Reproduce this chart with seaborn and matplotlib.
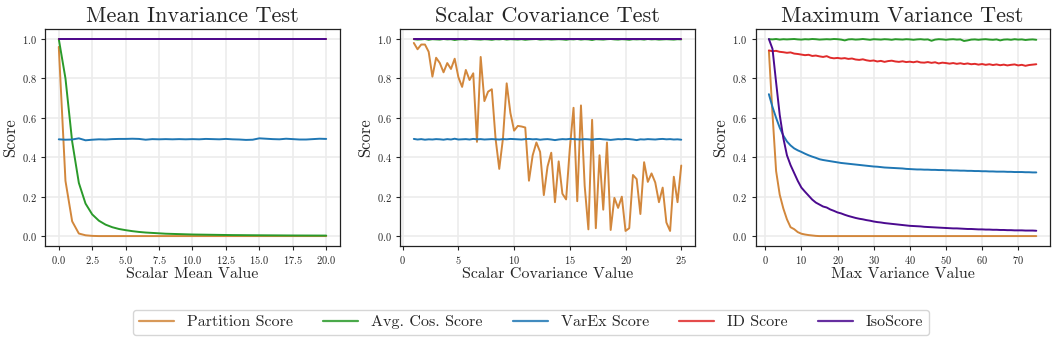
import matplotlib
matplotlib.use("Agg")
import matplotlib.pyplot as plt
import numpy as np
import pandas as pd
import seaborn as sns

SERIES = ["Partition Score", "Avg. Cos. Score", "VarEx Score", "ID Score", "IsoScore"]
COLORS = ["#d2873c", "#2a9a2a", "#1f77b4", "#e02b2b", "#4b0a8f"]

# --- Mean invariance test (x = 0..20, step 0.5) ---
mean_x = np.arange(0, 20.01, 0.5)
mean_partition = [0.96, 0.28, 0.075, 0.013, 0.004, 0.001] + [0.0] * 35
mean_avgcos = [1.0, 0.80, 0.48, 0.27, 0.165, 0.11, 0.078, 0.058, 0.045, 0.036,
               0.030, 0.025, 0.021, 0.018, 0.016, 0.014, 0.012, 0.011, 0.010, 0.009,
               0.008, 0.0075, 0.007, 0.0065, 0.006, 0.0055, 0.005, 0.0048, 0.0045, 0.0042,
               0.004, 0.0038, 0.0036, 0.0034, 0.0032, 0.003, 0.0029, 0.0028, 0.0027, 0.0026,
               0.0025]
mean_varex = [0.491, 0.489, 0.490, 0.496, 0.486, 0.489, 0.491, 0.490, 0.492, 0.493,
              0.493, 0.494, 0.493, 0.489, 0.492, 0.491, 0.492, 0.491, 0.492, 0.491,
              0.492, 0.491, 0.493, 0.492, 0.491, 0.493, 0.491, 0.490, 0.488, 0.489,
              0.496, 0.494, 0.492, 0.491, 0.494, 0.492, 0.490, 0.490, 0.492, 0.494,
              0.493]
mean_id = [1.0] * 41
mean_iso = [1.0] * 41

# --- Scalar covariance test (x = 1..25, 73 points) ---
cov_x = np.linspace(1, 25, 73)
cov_partition = [0.980, 0.948, 0.972, 0.972, 0.935, 0.809, 0.905, 0.878, 0.831, 0.878,
                 0.848, 0.900, 0.806, 0.757, 0.843, 0.792, 0.826, 0.478, 0.909, 0.685,
                 0.733, 0.745, 0.496, 0.341, 0.496, 0.775, 0.625, 0.535, 0.559, 0.556,
                 0.551, 0.281, 0.410, 0.475, 0.427, 0.208, 0.353, 0.423, 0.172, 0.379,
                 0.215, 0.186, 0.444, 0.651, 0.177, 0.663, 0.255, 0.034, 0.590, 0.040,
                 0.410, 0.134, 0.475, 0.031, 0.194, 0.143, 0.200, 0.026, 0.040, 0.310,
                 0.289, 0.112, 0.375, 0.275, 0.318, 0.272, 0.172, 0.246, 0.069, 0.026,
                 0.301, 0.172, 0.358]
cov_avgcos = [0.999, 0.997, 0.998, 1.000, 0.996, 0.999, 0.998, 0.997, 1.000, 0.998,
              0.999, 0.995, 0.998, 0.999, 0.997, 1.000, 0.999, 0.998, 0.997, 0.999,
              0.998, 0.996, 0.999, 0.998, 1.000, 0.997, 0.999, 0.998, 0.997, 0.999,
              0.996, 0.998, 0.999, 1.000, 0.997, 0.998, 0.999, 0.997, 0.998, 0.999,
              0.998, 0.996, 0.999, 0.998, 1.000, 0.997, 0.999, 0.998, 0.995, 0.999,
              0.998, 0.997, 0.999, 1.000, 0.998, 0.997, 0.999, 0.998, 0.996, 0.999,
              0.998, 0.999, 0.997, 1.000, 0.998, 0.999, 0.997, 0.998, 0.999, 0.998,
              0.997, 0.999, 0.998]
cov_varex = [0.493, 0.490, 0.492, 0.489, 0.491, 0.490, 0.492, 0.491, 0.489, 0.492,
             0.490, 0.494, 0.490, 0.491, 0.492, 0.490, 0.493, 0.491, 0.492, 0.490,
             0.491, 0.492, 0.491, 0.490, 0.492, 0.491, 0.493, 0.492, 0.491, 0.490,
             0.492, 0.493, 0.491, 0.492, 0.489, 0.491, 0.492, 0.490, 0.487, 0.490,
             0.492, 0.491, 0.493, 0.492, 0.491, 0.490, 0.492, 0.491, 0.489, 0.492,
             0.493, 0.491, 0.490, 0.488, 0.490, 0.492, 0.491, 0.493, 0.492, 0.490,
             0.487, 0.491, 0.490, 0.492, 0.491, 0.490, 0.492, 0.493, 0.491, 0.492,
             0.490, 0.491, 0.489]
cov_id = [1.0] * 73
cov_iso = [1.0] * 73

# --- Maximum variance test (x = 1..75) ---
var_x = np.arange(1, 76)
var_partition = [0.94, 0.62, 0.33, 0.21, 0.14, 0.085, 0.045, 0.035, 0.020, 0.012,
                 0.008, 0.005, 0.003, 0.001] + [0.0] * 61
var_avgcos = [0.999, 0.998, 1.000, 0.997, 0.999, 0.998, 0.999, 1.000, 0.998, 0.997,
              0.999, 0.998, 1.000, 0.999, 0.997, 0.998, 0.999, 0.998, 1.000, 0.999,
              0.997, 0.993, 0.998, 0.999, 0.997, 0.998, 1.000, 0.998, 0.996, 0.999,
              0.998, 0.997, 0.999, 0.998, 0.996, 0.999, 0.998, 0.997, 0.999, 0.998,
              0.996, 0.998, 0.999, 0.997, 0.998, 0.991, 0.997, 0.999, 0.998, 0.996,
              0.998, 0.999, 0.997, 0.998, 0.990, 0.993, 0.997, 0.998, 0.996, 0.998,
              0.999, 0.997, 0.996, 0.998, 0.993, 0.997, 0.998, 0.996, 0.999, 0.997,
              0.998, 0.995, 0.997, 0.998, 0.996]
var_varex = [0.72, 0.655, 0.60, 0.55, 0.51, 0.48, 0.46, 0.445, 0.435, 0.427,
             0.418, 0.410, 0.403, 0.397, 0.390, 0.386, 0.383, 0.380, 0.377, 0.374,
             0.371, 0.369, 0.367, 0.365, 0.363, 0.361, 0.359, 0.357, 0.355, 0.353,
             0.352, 0.350, 0.348, 0.347, 0.346, 0.345, 0.344, 0.343, 0.341, 0.340,
             0.339, 0.338, 0.338, 0.337, 0.337, 0.336, 0.336, 0.335, 0.335, 0.334,
             0.334, 0.333, 0.333, 0.332, 0.332, 0.331, 0.331, 0.330, 0.330, 0.329,
             0.329, 0.328, 0.328, 0.327, 0.327, 0.327, 0.326, 0.326, 0.325, 0.325,
             0.325, 0.324, 0.324, 0.323, 0.323]
var_id = [0.942, 0.938, 0.940, 0.935, 0.933, 0.930, 0.932, 0.926, 0.924, 0.921,
          0.918, 0.920, 0.914, 0.916, 0.912, 0.909, 0.913, 0.905, 0.902, 0.904,
          0.901, 0.903, 0.899, 0.901, 0.896, 0.894, 0.897, 0.892, 0.889, 0.891,
          0.886, 0.889, 0.884, 0.888, 0.890, 0.886, 0.884, 0.887, 0.883, 0.885,
          0.882, 0.886, 0.881, 0.880, 0.883, 0.879, 0.882, 0.876, 0.880, 0.878,
          0.875, 0.878, 0.874, 0.877, 0.873, 0.876, 0.872, 0.874, 0.870, 0.873,
          0.869, 0.872, 0.868, 0.871, 0.867, 0.870, 0.866, 0.869, 0.871, 0.866,
          0.869, 0.864, 0.868, 0.870, 0.872]
var_iso = [1.0, 0.95, 0.78, 0.615, 0.497, 0.41, 0.36, 0.32, 0.28, 0.246,
           0.225, 0.205, 0.185, 0.170, 0.160, 0.150, 0.145, 0.135, 0.128, 0.120,
           0.115, 0.108, 0.102, 0.097, 0.092, 0.088, 0.085, 0.081, 0.078, 0.074,
           0.071, 0.069, 0.066, 0.064, 0.062, 0.060, 0.058, 0.056, 0.054, 0.052,
           0.051, 0.050, 0.049, 0.047, 0.046, 0.045, 0.044, 0.043, 0.042, 0.041,
           0.040, 0.039, 0.039, 0.038, 0.037, 0.036, 0.036, 0.035, 0.034, 0.034,
           0.033, 0.033, 0.032, 0.032, 0.031, 0.031, 0.030, 0.030, 0.029, 0.029,
           0.029, 0.028, 0.028, 0.028, 0.027]

PANELS = [
    ("Mean Invariance Test", "Scalar Mean Value", mean_x,
     [mean_partition, mean_avgcos, mean_varex, mean_id, mean_iso]),
    ("Scalar Covariance Test", "Scalar Covariance Value", cov_x,
     [cov_partition, cov_avgcos, cov_varex, cov_id, cov_iso]),
    ("Maximum Variance Test", "Max Variance Value", var_x,
     [var_partition, var_avgcos, var_varex, var_id, var_iso]),
]


def long_frame(x, values):
    parts = [pd.DataFrame({"x": x, "score": v, "series": name})
             for name, v in zip(SERIES, values)]
    return pd.concat(parts, ignore_index=True)


sns.set_style("ticks")
plt.rcParams["font.family"] = ["cmr10", "DejaVu Serif"]
plt.rcParams["mathtext.fontset"] = "cm"
plt.rcParams["axes.formatter.use_mathtext"] = True
plt.rcParams["axes.unicode_minus"] = False

fig, axes = plt.subplots(1, 3, figsize=(10.56, 3.43), dpi=100)
fig.subplots_adjust(left=0.043, right=0.994, top=0.915, bottom=0.283, wspace=0.207)
palette = dict(zip(SERIES, COLORS))

for ax, (title, xlabel, x, values) in zip(axes, PANELS):
    df = long_frame(x, values)
    sns.lineplot(data=df, x="x", y="score", hue="series", hue_order=SERIES,
                 palette=palette, linewidth=1.4, ax=ax, legend=False)
    ax.set_title(title, fontsize=16, pad=5)
    ax.set_xlabel(xlabel, fontsize=11.5, labelpad=1)
    ax.set_ylabel("Score", fontsize=12, labelpad=3)
    ax.set_yticks([0.0, 0.2, 0.4, 0.6, 0.8, 1.0])
    ax.set_ylim(-0.05, 1.05)
    ax.tick_params(labelsize=7.5, length=3, width=0.8, pad=3)
    ax.grid(True, color="#ececec", linewidth=1.2)
    for s in ax.spines.values():
        s.set_color("#222222")
        s.set_linewidth(0.9)

axes[0].set_xticks(np.arange(0, 20.01, 2.5))
axes[1].set_xticks([0, 5, 10, 15, 20, 25])
axes[2].set_xticks([0, 10, 20, 30, 40, 50, 60, 70])

handles = [plt.Line2D([], [], color=c, linewidth=1.6, alpha=0.85) for c in COLORS]
fig.legend(handles, SERIES, loc="lower center", bbox_to_anchor=(0.503, 0.0),
           ncol=5, fontsize=11.5, frameon=True, handlelength=2.2, columnspacing=1.9,
           borderpad=0.35, handletextpad=0.8)

fig.savefig("out.png", dpi=100)
